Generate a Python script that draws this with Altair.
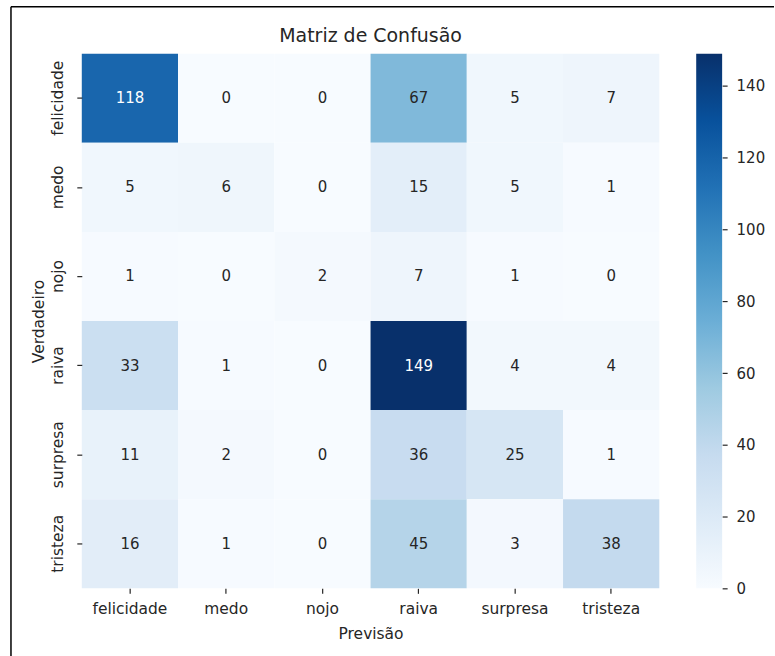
import altair as alt
import pandas as pd

# Emotion classes (true labels on rows, predicted labels on columns)
classes = ["felicidade", "medo", "nojo", "raiva", "surpresa", "tristeza"]

# Confusion-matrix counts, one list per true class
row_felicidade = [118, 0, 0, 67, 5, 7]
row_medo = [5, 6, 0, 15, 5, 1]
row_nojo = [1, 0, 2, 7, 1, 0]
row_raiva = [33, 1, 0, 149, 4, 4]
row_surpresa = [11, 2, 0, 36, 25, 1]
row_tristeza = [16, 1, 0, 45, 3, 38]

rows = [row_felicidade, row_medo, row_nojo, row_raiva, row_surpresa, row_tristeza]

# Colour-bar tick labels
cbar_ticks = [0, 20, 40, 60, 80, 100, 120, 140]

# Matplotlib "Blues" colormap anchor colours
blues = ["#f7fbff", "#deebf7", "#c6dbef", "#9ecae1", "#6baed6",
         "#4292c6", "#2171b5", "#08519c", "#08306b"]

records = []
for true_label, counts in zip(classes, rows):
    for pred_label, n in zip(classes, counts):
        records.append({"Verdadeiro": true_label, "Previsão": pred_label, "n": n})
df = pd.DataFrame(records)

vmin = int(df["n"].min())
vmax = int(df["n"].max())
stops_domain = [vmin + (vmax - vmin) * i / (len(blues) - 1) for i in range(len(blues))]

FONT = "DejaVu Sans"
TXT = "#262626"
W, H = 579, 536
CB_W, GAP = 26, 37

color_scale = alt.Scale(domain=stops_domain, range=blues, interpolate="rgb")

base = alt.Chart(df).encode(
    x=alt.X("Previsão:N", sort=classes,
            scale=alt.Scale(paddingInner=0, paddingOuter=0),
            axis=alt.Axis(title="Previsão", labelAngle=0, domain=False,
                          ticks=True, tickSize=5, tickWidth=1.2, tickColor=TXT,
                          labelPadding=8, labelFontSize=15.5, labelFont=FONT,
                          labelColor=TXT, titleFont=FONT, titleFontSize=15.5,
                          titleFontWeight="normal", titleColor=TXT,
                          titlePadding=10)),
    y=alt.Y("Verdadeiro:N", sort=classes,
            scale=alt.Scale(paddingInner=0, paddingOuter=0),
            axis=alt.Axis(title="Verdadeiro", labelAngle=270, domain=False,
                          labelAlign="center", labelBaseline="bottom",
                          ticks=True, tickSize=5, tickWidth=1.2, tickColor=TXT,
                          labelPadding=11, labelFontSize=15.5, labelFont=FONT,
                          labelColor=TXT, titleFont=FONT, titleFontSize=15.5,
                          titleFontWeight="normal", titleColor=TXT,
                          titlePadding=4)),
)

cells = base.mark_rect(strokeWidth=0).encode(
    color=alt.Color("n:Q", scale=color_scale, legend=None)
)

labels = base.mark_text(font=FONT, fontSize=15).encode(
    text=alt.Text("n:Q"),
    color=alt.condition(alt.datum.n > 100, alt.value("white"), alt.value(TXT)),
)

heatmap = alt.layer(cells, labels).properties(
    width=W, height=H,
    title=alt.TitleParams("Matriz de Confusão", font=FONT, fontSize=19,
                          fontWeight="normal", color=TXT, anchor="middle",
                          frame="group", offset=8),
)

# Colour bar drawn as a single rectangle with a vertical Blues gradient
cbar_df = pd.DataFrame({"lo": [vmin], "hi": [vmax]})
gradient = alt.Gradient(
    gradient="linear", x1=0, y1=1, x2=0, y2=0,
    stops=[alt.GradientStop(offset=i / (len(blues) - 1), color=c)
           for i, c in enumerate(blues)],
)
cbar = alt.Chart(cbar_df).mark_rect(fill=gradient).encode(
    x=alt.value(0), x2=alt.value(CB_W),
    y=alt.Y("lo:Q", scale=alt.Scale(domain=[vmin, vmax], nice=False, zero=False),
            axis=alt.Axis(orient="right", title=None, values=cbar_ticks,
                          domain=False, grid=False, tickSize=5, tickWidth=1.2,
                          tickColor=TXT, labelPadding=9, labelFont=FONT,
                          labelFontSize=15, labelColor=TXT)),
    y2="hi:Q",
)

# Figure frame: thin black line along the top and left edges of the figure
left_edge = -(W + GAP + 71)
frame_top = alt.Chart(pd.DataFrame({"k": [0]})).mark_rule(
    color="black", strokeWidth=1.5).encode(
    x=alt.value(left_edge), x2=alt.value(78), y=alt.value(-47))
frame_left = alt.Chart(pd.DataFrame({"k": [0]})).mark_rule(
    color="black", strokeWidth=1.5).encode(
    x=alt.value(left_edge), y=alt.value(-47), y2=alt.value(604))

colorbar = alt.layer(cbar, frame_top, frame_left).properties(width=CB_W, height=H)

chart = alt.hconcat(heatmap, colorbar, spacing=GAP, bounds="flush").properties(
    padding={"left": 10, "top": 5, "right": 0, "bottom": 0},
    background="white",
).configure_view(stroke=None)

chart.save("out.html", embed_options={"renderer": "svg", "actions": False})
